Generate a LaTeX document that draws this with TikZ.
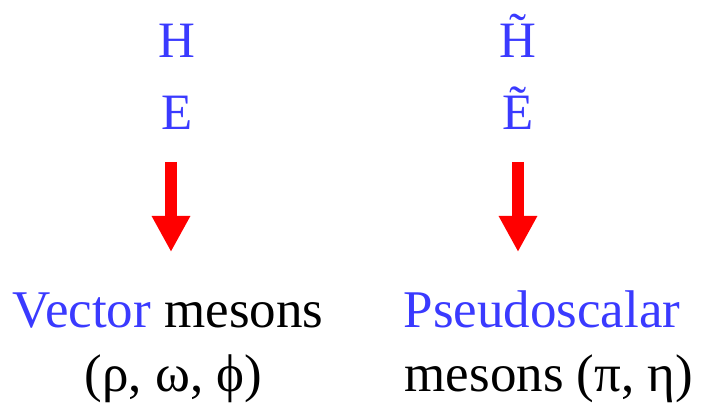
\documentclass[tikz,border=0pt]{standalone}
\usepackage{fontspec}
\setmainfont{Liberation Serif}
\usepackage{xcolor}
\usepackage{tikz}
\usetikzlibrary{arrows.meta}
\definecolor{gpdblue}{RGB}{58,58,255}
\definecolor{arrowred}{RGB}{255,0,0}

\begin{document}
\begin{tikzpicture}[
    x=1pt, y=1pt,
    gpd/.style={anchor=base, inner sep=0pt, text=gpdblue, font=\fontsize{51}{61}\selectfont},
    meson/.style={anchor=base, inner sep=0pt, font=\fontsize{53}{63}\selectfont},
    arr/.style={-{Triangle[length=36pt, width=36pt]}, line width=12pt, arrowred}
]
\useasboundingbox (0,0) rectangle (702,404);

% GPDs
\node[gpd] (h) at (177,346) {H};
\node[gpd] (e) at (177,274) {E};
\node[gpd] (ht) at (518,346) {\~{H}};
\node[gpd] (et) at (518,274) {\~{E}};

% arrow ends
\coordinate (ltop) at (171,242);
\coordinate (lbot) at (171,152);
\coordinate (rtop) at (518,242);
\coordinate (rbot) at (518,152);

% mesons
\node[meson] (vec) at (168,76) {\textcolor{gpdblue}{Vector} mesons};
\node[meson] (veclist) at (173.5,12) {(ρ, ω, ϕ)};
\node[meson] (ps) at (542,76) {\textcolor{gpdblue}{Pseudoscalar}};
\node[meson] (pslist) at (549,12) {mesons (π, η)};

\draw[arr] (ltop) -- (lbot);
\draw[arr] (rtop) -- (rbot);
\end{tikzpicture}
\end{document}
